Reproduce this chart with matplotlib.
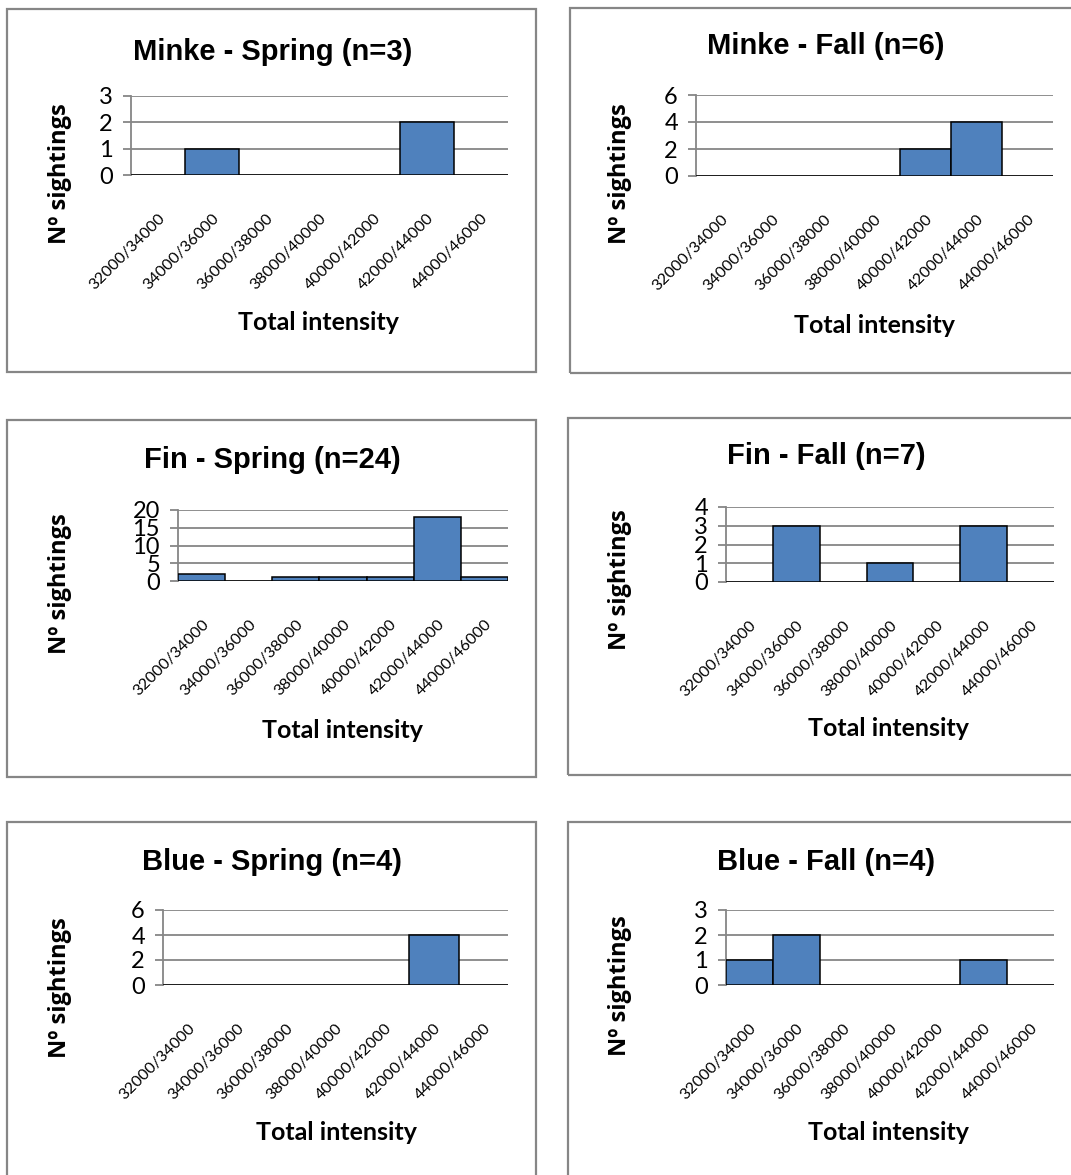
import matplotlib
matplotlib.use("Agg")
import matplotlib.pyplot as plt
from matplotlib.patches import Rectangle

# Intensity bins shared by all histograms
categories = ["32000/34000", "34000/36000", "36000/38000", "38000/40000",
              "40000/42000", "42000/44000", "44000/46000"]

# Number of sightings per intensity bin
minke_spring = [0, 1, 0, 0, 0, 2, 0]
minke_fall = [0, 0, 0, 0, 2, 4, 0]
fin_spring = [2, 0, 1, 1, 1, 18, 1]
fin_fall = [0, 3, 0, 1, 0, 3, 0]
blue_spring = [0, 0, 0, 0, 0, 4, 0]
blue_fall = [1, 2, 0, 0, 0, 1, 0]

titles = ["Minke - Spring (n=3)", "Minke - Fall (n=6)",
          "Fin - Spring (n=24)", "Fin - Fall (n=7)",
          "Blue - Spring (n=4)", "Blue - Fall (n=4)"]
y_ticks = [[0, 1, 2, 3], [0, 2, 4, 6], [0, 5, 10, 15, 20],
           [0, 1, 2, 3, 4], [0, 2, 4, 6], [0, 1, 2, 3]]
series = [minke_spring, minke_fall, fin_spring, fin_fall, blue_spring, blue_fall]

x_label = "Total intensity"
y_label = "Nº sightings"

W, H = 1071, 1175
fig = plt.figure(figsize=(W / 100, H / 100), dpi=100)
fig.patch.set_facecolor("white")

GREY = "#868686"
BAR = "#4F81BD"


def fx(px):
    return px / W


def fy(py):
    return 1 - py / H


# Layout in pixels: frame box, plot area, title / axis-label centres
layout = [
    dict(box=(7, 9, 536, 372), plot=(131, 96, 508, 175),
         title=(273, 52), ylab=(60, 174), xlab=(319, 323)),
    dict(box=(570, 8, 1100, 373), plot=(696, 95, 1053, 176),
         title=(826, 46), ylab=(620, 174), xlab=(874, 325)),
    dict(box=(7, 420, 536, 777), plot=(178, 510, 508, 581),
         title=(272, 460), ylab=(60, 584), xlab=(342, 730)),
    dict(box=(568, 418, 1100, 775), plot=(726, 507, 1054, 582),
         title=(826, 456), ylab=(620, 580), xlab=(889, 728)),
    dict(box=(7, 822, 536, 1200), plot=(163, 910, 508, 985),
         title=(272, 862), ylab=(60, 988), xlab=(336, 1132)),
    dict(box=(568, 822, 1100, 1200), plot=(726, 910, 1054, 985),
         title=(826, 862), ylab=(620, 986), xlab=(889, 1132)),
]

for i, lay in enumerate(layout):
    bx0, by0, bx1, by1 = lay["box"]
    fig.add_artist(Rectangle((fx(bx0), fy(by1)), fx(bx1) - fx(bx0),
                             fy(by0) - fy(by1), transform=fig.transFigure,
                             fill=False, edgecolor=GREY, linewidth=1.6,
                             clip_on=False))

    px0, py0, px1, py1 = lay["plot"]
    ax = fig.add_axes([fx(px0), fy(py1), fx(px1) - fx(px0), fy(py0) - fy(py1)])
    vals = series[i]
    ticks = y_ticks[i]

    ax.bar(range(len(categories)), vals, width=1.0, color=BAR,
           edgecolor="black", linewidth=1.1, zorder=3)
    ax.set_xlim(-0.5, len(categories) - 0.5)
    ax.set_ylim(0, ticks[-1])
    ax.set_yticks(ticks)
    ax.set_yticklabels([str(t) for t in ticks], family="Lato", fontsize=17)
    ax.set_xticks(range(len(categories)))
    ax.set_xticklabels(categories, rotation=45, ha="right", va="top",
                       rotation_mode="anchor", family="Lato", fontsize=11.5)
    ax.tick_params(axis="x", length=0, pad=26)
    ax.tick_params(axis="y", length=6, width=1.3, color=GREY, pad=7)

    ax.set_axisbelow(True)
    ax.yaxis.grid(True, color=GREY, linewidth=1.3)
    for side in ("top", "right", "bottom"):
        ax.spines[side].set_visible(False)
    ax.spines["left"].set_color(GREY)
    ax.spines["left"].set_linewidth(1.3)
    ax.set_facecolor("none")

    tx, ty = lay["title"]
    fig.text(fx(tx), fy(ty), titles[i], ha="center", va="center",
             family="Liberation Sans", fontweight="bold", fontsize=21)
    lx, ly = lay["ylab"]
    fig.text(fx(lx), fy(ly), y_label, ha="center", va="center", rotation=90,
             family="Open Sans", fontweight="bold", fontsize=17)
    xx, xy = lay["xlab"]
    fig.text(fx(xx), fy(xy), x_label, ha="center", va="center",
             family="Lato", fontweight="bold", fontsize=18)

fig.savefig("out.png", dpi=100, facecolor="white")
